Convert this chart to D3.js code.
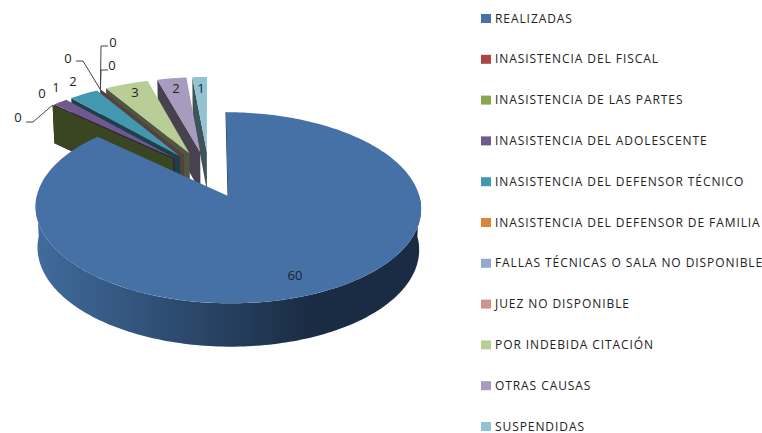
<!DOCTYPE html>
<html><head><meta charset="utf-8">
<script src="https://cdn.jsdelivr.net/npm/d3@7/dist/d3.min.js"></script>
<style>html,body{margin:0;background:#fff}svg{display:block}text{font-family:"Open Sans",sans-serif;fill:#222}</style>
</head><body><svg width="762" height="433"></svg>
<script>
const categories = ["REALIZADAS","INASISTENCIA DEL FISCAL","INASISTENCIA DE LAS PARTES","INASISTENCIA DEL ADOLESCENTE","INASISTENCIA DEL DEFENSOR TÉCNICO","INASISTENCIA DEL DEFENSOR DE FAMILIA","FALLAS TÉCNICAS O SALA NO DISPONIBLE","JUEZ NO DISPONIBLE","POR INDEBIDA CITACIÓN","OTRAS CAUSAS","SUSPENDIDAS"];
const values = [60,0,0,1,2,0,0,0,3,2,1];
const colors = ["#4571a7","#aa4643","#89a54e","#71588f","#4198af","#db843d","#93a9cf","#d19392","#b9cd96","#a99bbd","#91c3d5"];
const labelXY = [[295,275],[18,117],[42,93],[56,87],[73,81],[68,58],[112,65],[113,42],[135,92],[176,88],[201,88]];
const leaders = {1:[[26,122],[33,122]],2:[],5:[[76,61],[83,61]],6:[[108,70],[101,70]],7:[[108,46],[101,46]]};

const svg = d3.select("svg");
const cx=209, cy=175, rx=186, ry=89, k=0.12, explodeMain=0.25, explodeSmall=0.27, depth=40;
const TAU=2*Math.PI;
function proj(u,v,z){
  const s=1/(1-k*v), shrink=1-0.01*z;
  return [cx+19+(u*rx*s-19)*shrink, cy+v*ry*s+z*depth*Math.sqrt(s)];
}
const pie=d3.pie().sort(null).startAngle(0).endAngle(TAU)(values);
const line=d3.line();
function geo(d){
  const m=(d.startAngle+d.endAngle)/2;
  const e=d.index===0?explodeMain:explodeSmall;
  const ou=e*Math.sin(m), ov=-e*Math.cos(m);
  const pt=(t,z)=>proj(ou+Math.sin(t),ov-Math.cos(t),z);
  const apex=z=>proj(ou,ov,z);
  return {pt,apex};
}
function arcPts(g,a,b,z){
  const n=Math.max(2,Math.ceil(Math.abs(b-a)/0.02));
  return d3.range(n+1).map(i=>g.pt(a+(b-a)*i/n,z));
}
const defs=svg.append("defs");
const grad=defs.append("linearGradient").attr("id","rim").attr("gradientUnits","userSpaceOnUse")
  .attr("x1",38).attr("x2",310).attr("y1",0).attr("y2",0);
grad.append("stop").attr("offset",0).attr("stop-color","#406b9c");
grad.append("stop").attr("offset",1).attr("stop-color","#1a2c44");

const chart=svg.append("g");
// small slices back to front (right to left); on ties real slices first, then empty ones in legend order
const small=pie.slice(1).sort((a,b)=>(b.startAngle-a.startAngle)||(b.value-a.value)||(a.index-b.index));
small.forEach(d=>{
  const g=geo(d), c=d3.color(colors[d.index]).darker(2.4).formatHex();
  chart.append("path").attr("fill",c)
    .attr("d",line([g.apex(0),g.pt(d.startAngle,0),g.pt(d.startAngle,1),g.apex(1)])+"Z");
  if(d.value>0) chart.append("path").attr("fill",colors[d.index])
    .attr("d",line([g.apex(0),...arcPts(g,d.startAngle,d.endAngle,0)])+"Z");
});
// main slice
const d0=pie[0], g0=geo(d0);
chart.append("path").attr("fill","url(#rim)")
  .attr("d",line([...arcPts(g0,Math.PI/2,1.5*Math.PI,0),...arcPts(g0,1.5*Math.PI,Math.PI/2,1)])+"Z");
chart.append("path").attr("fill","none").attr("stroke","#1d3048").attr("stroke-width",1)
  .attr("d",line([g0.apex(0),g0.pt(0,0)]));
chart.append("path").attr("fill",colors[0])
  .attr("d",line([g0.apex(0),...arcPts(g0,d0.startAngle,d0.endAngle,0)])+"Z");

// leader lines
const anchors={1:pie[1],2:pie[1],5:pie[5],6:pie[6],7:pie[7]};
Object.entries(leaders).forEach(([i,pts])=>{
  if(!pts.length) return;
  const d=anchors[i], g=geo(d);
  chart.append("path").attr("fill","none").attr("stroke","#444").attr("stroke-width",1)
    .attr("d",line([...pts,g.pt(d.startAngle,0)]));
});
// data labels
svg.append("g").selectAll("text").data(values).join("text")
  .attr("x",(d,i)=>labelXY[i][0]).attr("y",(d,i)=>labelXY[i][1])
  .attr("text-anchor","middle").attr("dominant-baseline","central")
  .attr("font-size",13).text(d=>d);
// legend
const yL=d3.scalePoint().domain(categories).range([18,426]);
const lg=svg.append("g").selectAll("g").data(categories).join("g")
  .attr("transform",d=>`translate(481,${yL(d)})`);
lg.append("rect").attr("x",0).attr("y",-4).attr("width",10).attr("height",9).attr("fill",(d,i)=>colors[i]);
lg.append("text").attr("x",14).attr("dominant-baseline","central").attr("font-size",12).attr("letter-spacing",0.92).text(d=>d);
</script></body></html>
